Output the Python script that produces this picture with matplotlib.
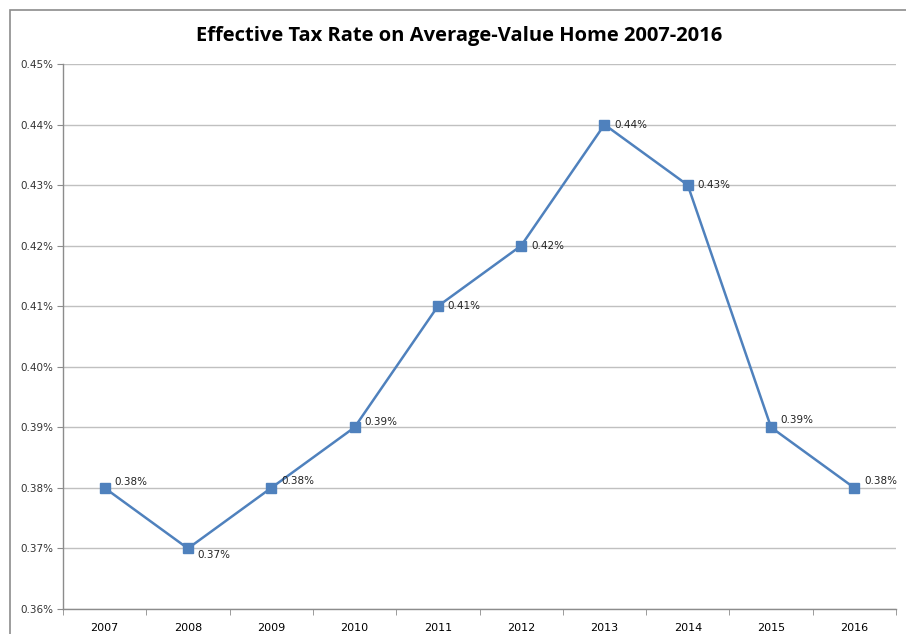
import matplotlib
matplotlib.use("Agg")
import matplotlib.pyplot as plt
from matplotlib.ticker import FuncFormatter, FixedLocator
from matplotlib.patches import Rectangle

years = ["2007", "2008", "2009", "2010", "2011", "2012", "2013", "2014", "2015", "2016"]
rates = [0.38, 0.37, 0.38, 0.39, 0.41, 0.42, 0.44, 0.43, 0.39, 0.38]
title = "Effective Tax Rate on Average-Value Home 2007-2016"

plt.rcParams['font.family'] = ['DejaVu Sans']
fig = plt.figure(figsize=(9.06, 6.34), dpi=100)
fig.patches.append(Rectangle((0.011, -0.01), 0.995, 0.995, transform=fig.transFigure,
                             fill=False, edgecolor='#8c8c8c', linewidth=1.2))
ax = fig.add_axes([0.0695, 0.0394, 0.9195, 0.8596])

x = list(range(len(years)))
color = '#4F81BD'
ax.plot(x, rates, color=color, linewidth=1.8, marker='s', markersize=7,
        markerfacecolor=color, markeredgecolor=color, zorder=3)

# vertical label offsets (points) as placed in the original chart
label_dy = [4, -5, 5, 4, 0, 0, 0, 0, 5, 5]
for xi, v, dy in zip(x, rates, label_dy):
    ax.annotate(f"{v:.2f}%", (xi, v), xytext=(7, dy), textcoords='offset points',
                ha='left', va='center', fontsize=7.5, color='#222222', zorder=4)

ax.set_xlim(-0.5, len(years) - 0.5)
ax.set_ylim(0.36, 0.45)
ax.set_yticks([0.36 + 0.01 * i for i in range(10)])
ax.yaxis.set_major_formatter(FuncFormatter(lambda v, p: f"{v:.2f}%"))
ax.set_xticks(x)
ax.set_xticklabels(years)
ax.xaxis.set_minor_locator(FixedLocator([i + 0.5 for i in range(-1, len(years))]))
ax.tick_params(axis='x', which='major', length=0, pad=10, labelsize=8)
ax.tick_params(axis='x', which='minor', length=4, color='#8c8c8c', direction='out')
ax.tick_params(axis='y', length=4, color='#8c8c8c', labelsize=7.5, pad=3, labelcolor='#333333')

ax.grid(axis='y', color='#c0c0c0', linewidth=1.0)
ax.set_axisbelow(True)
for s in ['top', 'right']:
    ax.spines[s].set_visible(False)
for s in ['left', 'bottom']:
    ax.spines[s].set_color('#8c8c8c')
    ax.spines[s].set_linewidth(1.0)

fig.text(0.507, 0.944, title, ha='center', va='center', fontsize=14.5,
         fontweight='bold', family=['Open Sans', 'DejaVu Sans'])

fig.savefig("out.png", dpi=100)
